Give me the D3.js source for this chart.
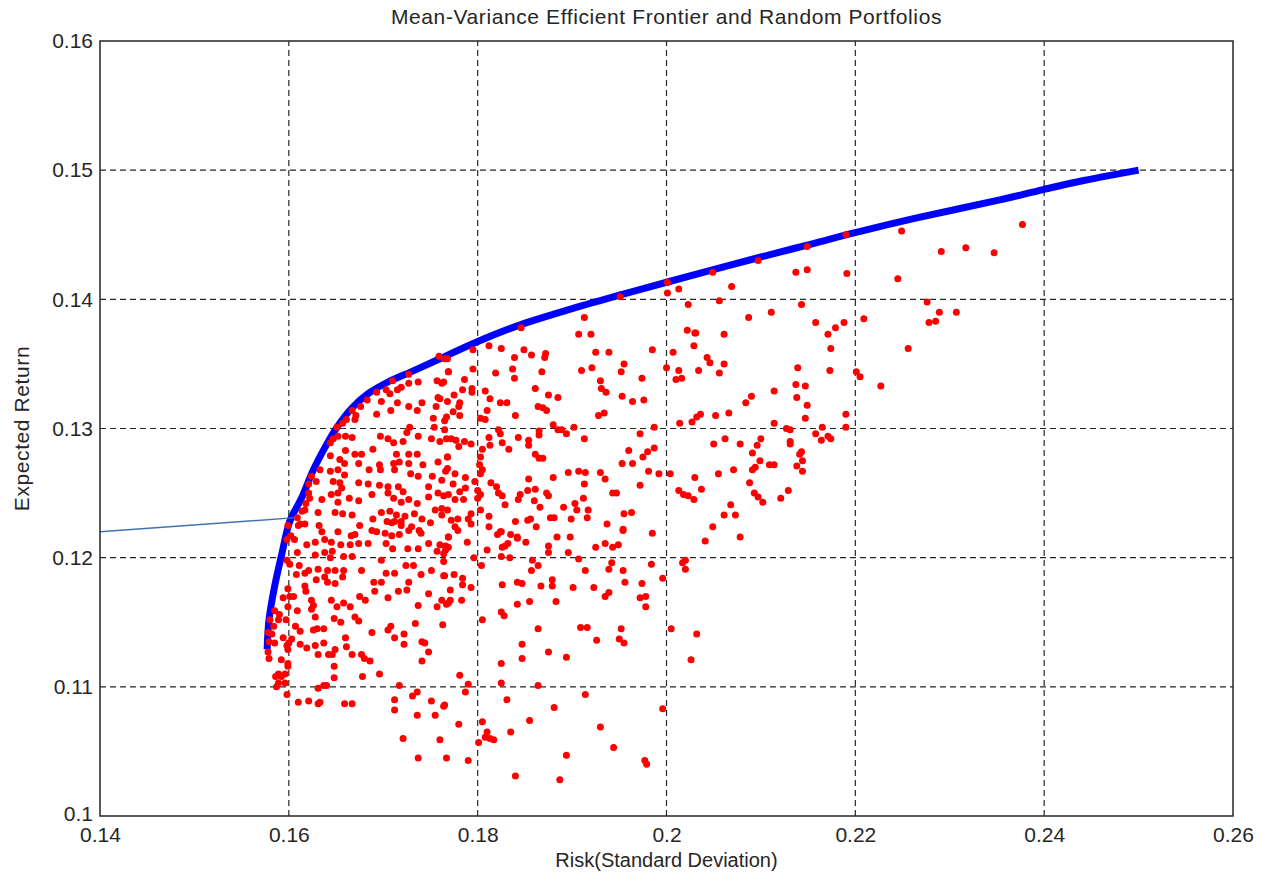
<!DOCTYPE html>
<html>
<head>
<meta charset="utf-8">
<script src="https://cdn.jsdelivr.net/npm/d3@7"></script>
<style>
  body { margin: 0; background: #fff; }
  text { font-family: "Liberation Sans", Arial, sans-serif; fill: #262626; }
</style>
</head>
<body>
<svg id="chart" width="1261" height="879"></svg>
<script>
// axis ticks
var xTicks = [0.14, 0.16, 0.18, 0.2, 0.22, 0.24, 0.26];
var yTicks = [0.1, 0.11, 0.12, 0.13, 0.14, 0.15, 0.16];

// efficient frontier (risk, return)
var frontierRisk = [0.1577, 0.1579, 0.1585, 0.1592, 0.1601, 0.1614, 0.1626, 0.1638, 0.1651, 0.1667,
	0.1684, 0.1705, 0.1730, 0.1760, 0.1799, 0.1848, 0.1901, 0.1954, 0.2004, 0.2096,
	0.2149, 0.2202, 0.2265, 0.2353, 0.2399, 0.2442, 0.2500];
var frontierReturn = [0.1129, 0.1152, 0.1178, 0.1201, 0.1228, 0.1247, 0.1268, 0.1285, 0.1301, 0.1316,
	0.1327, 0.1336, 0.1344, 0.1354, 0.1367, 0.1381, 0.1393, 0.1404, 0.1414, 0.1432,
	0.1442, 0.1452, 0.1463, 0.1477, 0.1485, 0.1492, 0.1500];

// pointer line
var pointerRisk = [0.14, 0.1607];
var pointerReturn = [0.1220, 0.1231];

// random portfolios [risk, return]
var portfolios = [
	[0.2377,0.1458],[0.2249,0.1453],[0.2291,0.1437],[0.2317,0.1440],[0.2347,0.1436],[0.2245,0.1416],[0.2190,0.1450],[0.2149,0.1441],
	[0.2097,0.1430],[0.2049,0.1421],[0.2137,0.1421],[0.2149,0.1423],[0.2191,0.1420],[0.2069,0.1410],[0.2056,0.1399],[0.2143,0.1396],
	[0.2111,0.1390],[0.2087,0.1386],[0.2276,0.1398],[0.2289,0.1390],[0.2307,0.1390],[0.2278,0.1382],[0.2285,0.1383],[0.2209,0.1385],
	[0.2188,0.1382],[0.2179,0.1378],[0.2158,0.1382],[0.2171,0.1373],[0.2174,0.1362],[0.2256,0.1362],[0.2030,0.1374],[0.2061,0.1373],
	[0.2029,0.1364],[0.2043,0.1355],[0.2046,0.1351],[0.2061,0.1350],[0.2034,0.1345],[0.2056,0.1343],[0.2139,0.1347],[0.2173,0.1345],
	[0.2201,0.1344],[0.2205,0.1340],[0.2227,0.1333],[0.2137,0.1334],[0.2147,0.1333],[0.2114,0.1329],[0.2090,0.1325],[0.2084,0.1320],
	[0.2138,0.1324],[0.2149,0.1318],[0.2036,0.1311],[0.2032,0.1309],[0.2027,0.1305],[0.2052,0.1310],[0.2066,0.1312],[0.2114,0.1304],
	[0.2147,0.1308],[0.2190,0.1311],[0.2190,0.1301],[0.2127,0.1300],[0.2131,0.1299],[0.2165,0.1301],[0.2158,0.1296],[0.2164,0.1291],
	[0.2171,0.1294],[0.2174,0.1292],[0.2050,0.1288],[0.2062,0.1292],[0.2078,0.1288],[0.2100,0.1292],[0.2096,0.1287],[0.2131,0.1290],
	[0.2131,0.1288],[0.2091,0.1281],[0.2099,0.1275],[0.2109,0.1272],[0.2114,0.1272],[0.2143,0.1282],[0.2141,0.1280],[0.2144,0.1275],
	[0.2138,0.1271],[0.2144,0.1267],[0.2094,0.1270],[0.2091,0.1268],[0.2071,0.1268],[0.2055,0.1265],[0.2030,0.1262],[0.2037,0.1253],
	[0.2029,0.1245],[0.2088,0.1258],[0.2093,0.1250],[0.2097,0.1247],[0.2102,0.1243],[0.2121,0.1246],[0.2129,0.1252],[0.2068,0.1241],
	[0.2061,0.1233],[0.2073,0.1233],[0.2049,0.1224],[0.2078,0.1216],[0.2041,0.1213],[0.2032,0.1141],[0.2026,0.1121],
	[0.1996,0.1083],[0.1977,0.1043],[0.1979,0.1040],[0.1944,0.1053],[0.1930,0.1069],[0.1914,0.1094],[0.1894,0.1047],[0.1887,0.1028],
	[0.1881,0.1084],[0.1864,0.1101],[0.1855,0.1074],[0.1840,0.1031],[0.1835,0.1065],[0.1831,0.1090],[0.1825,0.1103],[0.1805,0.1073],
	[0.1810,0.1065],[0.1813,0.1060],[0.1817,0.1059],[0.1808,0.1061],[0.1801,0.1057],[0.1790,0.1043],[0.1767,0.1045],[0.1780,0.1071],
	[0.1764,0.1085],[0.1760,0.1059],[0.1781,0.1109],[0.1790,0.1102],[0.1787,0.1096],[0.1825,0.1118],[0.1847,0.1122],[0.1847,0.1133],
	[0.1875,0.1127],[0.1894,0.1123],[0.1864,0.1145],[0.1909,0.1146],[0.1916,0.1146],[0.1926,0.1136],[0.1950,0.1137],[0.1955,0.1134],
	[0.1952,0.1145],[0.2005,0.1145],[0.1805,0.1152],[0.1825,0.1158],[0.1828,0.1155],[0.1842,0.1164],[0.1855,0.1166],[0.1883,0.1166],
	[0.1763,0.1148],[0.1978,0.1162],[0.1972,0.1169],[0.1978,0.1170],[0.1935,0.1170],[0.1939,0.1173],[0.1923,0.1177],[0.1901,0.1177],
	[0.1879,0.1183],[0.1879,0.1178],[0.1867,0.1178],[0.1842,0.1181],[0.1847,0.1180],[0.1826,0.1179],[0.1793,0.1177],[0.1771,0.1175],
	[0.1783,0.1167],[0.1771,0.1167],[0.1767,0.1164],[0.1784,0.1179],[0.1784,0.1184],[0.1775,0.1187],[0.1764,0.1186],[0.1804,0.1194],
	[0.1857,0.1190],[0.1864,0.1194],[0.1858,0.1198],[0.1914,0.1190],[0.1939,0.1191],[0.1942,0.1196],[0.1954,0.1190],[0.1956,0.1181],
	[0.1974,0.1180],[0.1984,0.1195],[0.1996,0.1184],[0.2017,0.1196],[0.2020,0.1198],[0.2020,0.1191],[0.1907,0.1199],[0.1896,0.1204],
	[0.1875,0.1204],[0.1875,0.1209],[0.1884,0.1216],[0.1898,0.1216],[0.1925,0.1208],[0.1935,0.1211],[0.1943,0.1208],[0.1949,0.1210],
	[0.1954,0.1221],[0.1985,0.1219],[0.1851,0.1212],[0.1842,0.1215],[0.1835,0.1218],[0.1832,0.1211],[0.1829,0.1209],[0.1826,0.1208],
	[0.1821,0.1218],[0.1825,0.1220],[0.1825,0.1201],[0.1834,0.1200],[0.1810,0.1206],[0.1789,0.1212],[0.1796,0.1200],[0.1779,0.1221],
	[0.1769,0.1216],[0.1769,0.1208],[0.1766,0.1206],[0.1764,0.1203],[0.1764,0.1197],[0.1760,0.1210],
	[0.2001,0.1413],[0.2001,0.1405],[0.2013,0.1408],[0.2023,0.1396],[0.1951,0.1402],[0.1913,0.1386],[0.1846,0.1378],[0.1907,0.1373],
	[0.1920,0.1373],[0.2022,0.1376],[0.2031,0.1374],[0.2007,0.1359],[0.1812,0.1364],[0.1825,0.1362],[0.1795,0.1361],[0.1849,0.1361],
	[0.1857,0.1357],[0.1872,0.1358],[0.1871,0.1355],[0.1839,0.1355],[0.1925,0.1359],[0.1939,0.1359],[0.1985,0.1361],[0.1955,0.1350],
	[0.1921,0.1347],[0.1910,0.1345],[0.1952,0.1344],[0.1974,0.1339],[0.2000,0.1347],[0.2013,0.1345],[0.2010,0.1338],[0.2016,0.1339],
	[0.1837,0.1346],[0.1839,0.1339],[0.1868,0.1344],[0.1819,0.1343],[0.1795,0.1346],[0.1769,0.1344],[0.1930,0.1337],[0.1931,0.1331],
	[0.1936,0.1328],[0.1953,0.1325],[0.1964,0.1321],[0.1976,0.1322],[0.1861,0.1331],[0.1875,0.1326],[0.1885,0.1324],[0.1864,0.1317],
	[0.1869,0.1316],[0.1873,0.1314],[0.1824,0.1320],[0.1831,0.1320],[0.1813,0.1323],[0.1808,0.1329],[0.1810,0.1314],[0.1840,0.1310],
	[0.1803,0.1308],[0.1808,0.1307],[0.1928,0.1310],[0.1934,0.1312],[0.2014,0.1304],[0.1880,0.1303],[0.1885,0.1299],[0.1889,0.1299],
	[0.1894,0.1296],[0.1902,0.1301],[0.1913,0.1292],[0.1972,0.1296],[0.1987,0.1301],[0.1865,0.1298],[0.1865,0.1295],[0.1854,0.1291],
	[0.1854,0.1287],[0.1843,0.1293],[0.1822,0.1299],[0.1824,0.1296],[0.1826,0.1289],[0.1833,0.1284],[0.1812,0.1293],[0.1813,0.1287],
	[0.1805,0.1284],[0.1793,0.1288],[0.1786,0.1290],[0.1777,0.1291],[0.1767,0.1292],[0.1765,0.1299],[0.1780,0.1286],[0.1960,0.1283],
	[0.1980,0.1282],[0.1975,0.1278],[0.1987,0.1285],[0.1953,0.1273],[0.1964,0.1273],[0.1861,0.1280],[0.1865,0.1277],[0.1869,0.1277],
	[0.1803,0.1278],[0.1802,0.1272],[0.1805,0.1268],[0.1803,0.1265],[0.1768,0.1278],[0.1768,0.1269],[0.1776,0.1265],[0.1787,0.1262],
	[0.1797,0.1259],[0.1762,0.1260],[0.1896,0.1266],[0.1907,0.1267],[0.1914,0.1266],[0.1930,0.1266],[0.1935,0.1261],[0.1981,0.1267],
	[0.1992,0.1265],[0.2004,0.1265],[0.1880,0.1262],[0.1854,0.1261],[0.1814,0.1258],[0.1913,0.1257],[0.1972,0.1256],[0.1947,0.1250],
	[0.1943,0.1250],[0.1861,0.1253],[0.1853,0.1252],[0.1845,0.1249],[0.1820,0.1255],[0.1826,0.1248],[0.1829,0.1241],[0.1843,0.1245],
	[0.1860,0.1244],[0.1866,0.1239],[0.1873,0.1250],[0.1875,0.1248],[0.1903,0.1242],[0.1912,0.1246],[0.1905,0.1237],[0.1917,0.1237],
	[0.1891,0.1239],[0.1877,0.1231],[0.1881,0.1231],[0.1899,0.1230],[0.1916,0.1231],[0.1937,0.1226],[0.1955,0.1234],[0.1963,0.1235],
	[0.1954,0.1222],[0.2013,0.1252],[0.2018,0.1249],[0.2023,0.1248],[0.1856,0.1230],[0.1853,0.1229],[0.1840,0.1228],[0.1824,0.1220],
	[0.1812,0.1224],[0.1812,0.1232],[0.1803,0.1237],[0.1793,0.1234],[0.1790,0.1230],[0.1793,0.1226],[0.1779,0.1230],[0.1776,0.1224],
	[0.1768,0.1237],[0.1762,0.1238],[0.1862,0.1224],[0.1842,0.1216],[0.1785,0.1245],[0.1776,0.1245],[0.1764,0.1248],[0.1781,0.1251],
	[0.1800,0.1252],[0.1787,0.1254],[0.1774,0.1257],[0.1800,0.1246],[0.1803,0.1249],[0.1822,0.1250],[0.1765,0.1306],[0.1760,0.1323],
	[0.1784,0.1330],[0.1775,0.1326],[0.1786,0.1338],[0.1794,0.1331],[0.1794,0.1328],[0.1781,0.1320],[0.1780,0.1317],[0.1774,0.1313],
	[0.1781,0.1310],[0.1767,0.1309],[0.1764,0.1336],[0.1768,0.1354],
	[0.1759,0.1356],[0.1765,0.1354],[0.1769,0.1344],[0.1757,0.1337],[0.1762,0.1335],[0.1727,0.1342],[0.1710,0.1337],[0.1737,0.1336],
	[0.1727,0.1335],[0.1719,0.1332],[0.1715,0.1330],[0.1703,0.1330],[0.1707,0.1327],[0.1693,0.1328],[0.1683,0.1322],[0.1758,0.1324],
	[0.1768,0.1321],[0.1698,0.1321],[0.1715,0.1320],[0.1727,0.1317],[0.1741,0.1320],[0.1756,0.1317],[0.1736,0.1314],[0.1708,0.1314],
	[0.1693,0.1311],[0.1676,0.1317],[0.1667,0.1314],[0.1671,0.1310],[0.1661,0.1307],[0.1657,0.1304],[0.1651,0.1301],[0.1670,0.1307],
	[0.1753,0.1308],[0.1754,0.1301],[0.1728,0.1301],[0.1725,0.1297],[0.1737,0.1294],[0.1705,0.1292],[0.1697,0.1294],[0.1667,0.1293],
	[0.1660,0.1294],[0.1652,0.1294],[0.1647,0.1292],[0.1644,0.1289],[0.1711,0.1289],[0.1721,0.1290],[0.1751,0.1292],[0.1760,0.1290],
	[0.1772,0.1292],[0.1689,0.1284],[0.1660,0.1283],[0.1670,0.1280],[0.1677,0.1280],[0.1644,0.1279],[0.1714,0.1280],[0.1727,0.1280],
	[0.1736,0.1280],[0.1768,0.1278],[0.1654,0.1276],[0.1659,0.1273],[0.1674,0.1273],[0.1696,0.1272],[0.1711,0.1273],[0.1717,0.1274],
	[0.1727,0.1273],[0.1742,0.1272],[0.1758,0.1274],[0.1633,0.1268],[0.1644,0.1267],[0.1652,0.1268],[0.1659,0.1264],[0.1685,0.1268],
	[0.1697,0.1268],[0.1712,0.1268],[0.1729,0.1265],[0.1737,0.1263],[0.1752,0.1263],[0.1766,0.1267],[0.1624,0.1263],[0.1629,0.1259],
	[0.1621,0.1257],[0.1647,0.1259],[0.1654,0.1258],[0.1656,0.1254],[0.1652,0.1250],[0.1674,0.1258],[0.1684,0.1257],[0.1696,0.1256],
	[0.1705,0.1255],[0.1716,0.1255],[0.1721,0.1251],[0.1705,0.1250],[0.1688,0.1249],[0.1748,0.1255],[0.1758,0.1250],[0.1748,0.1247],
	[0.1769,0.1249],[0.1621,0.1250],[0.1622,0.1246],[0.1635,0.1245],[0.1645,0.1249],[0.1652,0.1243],[0.1664,0.1246],[0.1674,0.1244],
	[0.1711,0.1246],[0.1727,0.1245],[0.1736,0.1242],[0.1719,0.1243],[0.1618,0.1242],[0.1614,0.1236],[0.1617,0.1237],[0.1631,0.1235],
	[0.1649,0.1235],[0.1657,0.1234],[0.1667,0.1233],[0.1689,0.1230],[0.1698,0.1235],[0.1707,0.1236],[0.1714,0.1233],[0.1723,0.1232],
	[0.1733,0.1234],[0.1741,0.1230],[0.1755,0.1237],[0.1762,0.1233],[0.1772,0.1229],[0.1609,0.1231],[0.1612,0.1226],[0.1709,0.1227],
	[0.1719,0.1225],[0.1730,0.1224],
	[0.1599,0.1225],[0.1610,0.1225],[0.1617,0.1226],[0.1632,0.1225],[0.1635,0.1220],[0.1652,0.1220],[0.1675,0.1225],[0.1688,0.1221],
	[0.1693,0.1220],[0.1704,0.1228],[0.1712,0.1228],[0.1719,0.1228],[0.1702,0.1219],[0.1709,0.1217],[0.1717,0.1218],[0.1727,0.1221],
	[0.1738,0.1221],[0.1750,0.1227],[0.1740,0.1219],[0.1769,0.1216],[0.1666,0.1217],[0.1670,0.1218],[0.1602,0.1217],[0.1606,0.1214],
	[0.1598,0.1214],[0.1619,0.1210],[0.1628,0.1212],[0.1638,0.1214],[0.1645,0.1212],[0.1655,0.1210],[0.1665,0.1210],[0.1674,0.1211],
	[0.1684,0.1211],[0.1703,0.1211],[0.1710,0.1207],[0.1726,0.1207],[0.1737,0.1207],[0.1748,0.1211],[0.1757,0.1205],[0.1766,0.1209],
	[0.1609,0.1204],[0.1628,0.1202],[0.1638,0.1204],[0.1646,0.1205],[0.1644,0.1200],[0.1658,0.1201],[0.1667,0.1201],[0.1598,0.1198],
	[0.1601,0.1195],[0.1611,0.1194],[0.1621,0.1190],[0.1608,0.1187],[0.1617,0.1188],[0.1631,0.1191],[0.1638,0.1185],[0.1641,0.1190],
	[0.1649,0.1190],[0.1658,0.1190],[0.1657,0.1185],[0.1677,0.1190],[0.1698,0.1198],[0.1703,0.1188],[0.1712,0.1188],[0.1724,0.1194],
	[0.1732,0.1194],[0.1740,0.1187],[0.1751,0.1190],[0.1765,0.1186],[0.1629,0.1183],[0.1641,0.1181],[0.1649,0.1180],[0.1690,0.1181],
	[0.1698,0.1181],[0.1727,0.1181],[0.1716,0.1174],[0.1691,0.1174],[0.1725,0.1175],[0.1748,0.1172],[0.1617,0.1178],[0.1618,0.1174],
	[0.1599,0.1176],[0.1594,0.1169],[0.1601,0.1170],[0.1605,0.1170],[0.1624,0.1167],[0.1626,0.1163],[0.1645,0.1167],[0.1651,0.1162],
	[0.1658,0.1165],[0.1665,0.1162],[0.1675,0.1170],[0.1681,0.1167],[0.1705,0.1169],[0.1737,0.1163],[0.1757,0.1162],[0.1762,0.1167],
	[0.1769,0.1165],[0.1585,0.1159],[0.1590,0.1156],[0.1599,0.1162],[0.1609,0.1159],[0.1624,0.1160],[0.1628,0.1154],[0.1648,0.1153],
	[0.1655,0.1150],[0.1670,0.1154],[0.1674,0.1151],[0.1580,0.1152],[0.1584,0.1147],[0.1589,0.1152],[0.1597,0.1152],[0.1607,0.1147],
	[0.1612,0.1143],[0.1626,0.1144],[0.1630,0.1145],[0.1637,0.1145],[0.1660,0.1138],[0.1688,0.1142],[0.1708,0.1147],[0.1705,0.1144],
	[0.1712,0.1138],[0.1722,0.1141],[0.1578,0.1142],[0.1582,0.1141],[0.1579,0.1135],[0.1585,0.1134],[0.1594,0.1138],[0.1598,0.1132],
	[0.1600,0.1134],[0.1603,0.1137],[0.1612,0.1133],[0.1619,0.1130],[0.1628,0.1132],[0.1637,0.1134],[0.1661,0.1131],[0.1667,0.1125],
	[0.1677,0.1125],[0.1680,0.1122],[0.1686,0.1120],[0.1642,0.1125],[0.1646,0.1125],[0.1648,0.1116],[0.1631,0.1125],[0.1599,0.1129],
	[0.1579,0.1122],[0.1578,0.1127],[0.1592,0.1121],[0.1599,0.1118],[0.1599,0.1116],[0.1589,0.1110],[0.1596,0.1110],[0.1586,0.1108],
	[0.1592,0.1108],[0.1589,0.1103],[0.1596,0.1103],[0.1587,0.1100],[0.1598,0.1094],[0.1610,0.1088],[0.1621,0.1089],[0.1631,0.1087],
	[0.1633,0.1088],[0.1631,0.1099],[0.1637,0.1101],[0.1640,0.1101],[0.1648,0.1107],[0.1659,0.1087],[0.1667,0.1087],[0.1678,0.1108],
	[0.1696,0.1110],[0.1717,0.1101],[0.1712,0.1090],[0.1712,0.1082],[0.1731,0.1093],[0.1736,0.1096],[0.1751,0.1089],[0.1765,0.1086],
	[0.1755,0.1078],[0.1736,0.1078],[0.1722,0.1133],[0.1741,0.1135],[0.1744,0.1134],[0.1748,0.1127],[0.1741,0.1120],[0.1734,0.1149],
	[0.1649,0.1129],[0.1721,0.1060],[0.1737,0.1045]
];

var svg = d3.select('#chart');
var margin = { left: 100, top: 41, right: 28, bottom: 63 };
var W = 1261, H = 879;

var x = d3.scaleLinear().domain([0.14, 0.26]).range([margin.left, W - margin.right]);
var y = d3.scaleLinear().domain([0.1, 0.16]).range([H - margin.bottom, margin.top]);

var fmt = function(d){ return String(+d.toFixed(2)); };

// grid
var grid = svg.append('g').attr('class', 'grid');
grid.selectAll('line.gx').data(xTicks.slice(1, -1)).enter().append('line')
	.attr('x1', function(d){ return x(d); }).attr('x2', function(d){ return x(d); })
	.attr('y1', y(0.1)).attr('y2', y(0.16))
	.attr('stroke', '#262626').attr('stroke-width', 1.2).attr('stroke-dasharray', '6,4');
grid.selectAll('line.gy').data(yTicks.slice(1, -1)).enter().append('line')
	.attr('y1', function(d){ return y(d); }).attr('y2', function(d){ return y(d); })
	.attr('x1', x(0.14)).attr('x2', x(0.26))
	.attr('stroke', '#262626').attr('stroke-width', 1.2).attr('stroke-dasharray', '6,4');

// frontier
var line = d3.line()
	.x(function(d){ return x(frontierRisk[d]); })
	.y(function(d){ return y(frontierReturn[d]); })
	.curve(d3.curveCatmullRom.alpha(0.5));
svg.append('path')
	.datum(d3.range(frontierRisk.length))
	.attr('d', line)
	.attr('fill', 'none')
	.attr('stroke', '#0000ff')
	.attr('stroke-width', 7);

// portfolios
svg.append('g').selectAll('circle').data(portfolios).enter().append('circle')
	.attr('cx', function(d){ return x(d[0]); })
	.attr('cy', function(d){ return y(d[1]); })
	.attr('r', 3.5)
	.attr('fill', '#ff0000');

// pointer line
svg.append('line')
	.attr('x1', x(pointerRisk[0])).attr('y1', y(pointerReturn[0]))
	.attr('x2', x(pointerRisk[1])).attr('y2', y(pointerReturn[1]))
	.attr('stroke', '#3f73b0').attr('stroke-width', 1.5);

// axes box
svg.append('rect')
	.attr('x', x(0.14)).attr('y', y(0.16))
	.attr('width', x(0.26) - x(0.14)).attr('height', y(0.1) - y(0.16))
	.attr('fill', 'none').attr('stroke', '#262626').attr('stroke-width', 1.5);

var xAxis = svg.append('g')
	.attr('transform', 'translate(0,' + y(0.1) + ')')
	.call(d3.axisBottom(x).tickValues(xTicks).tickFormat(fmt).tickSize(0).tickPadding(11));
var yAxis = svg.append('g')
	.attr('transform', 'translate(' + x(0.14) + ',0)')
	.call(d3.axisLeft(y).tickValues(yTicks).tickFormat(fmt).tickSize(0).tickPadding(7));
[xAxis, yAxis].forEach(function(a){
	a.select('.domain').remove();
	a.selectAll('text').style('font-size', '21px').attr('fill', '#262626')
		.style('font-family', '"Liberation Sans", Arial, sans-serif');
});
// lift the lowest y label a touch so it clears the 0.14 label below it
yAxis.selectAll('.tick text').filter(function(d){ return d === 0.1; }).attr('dy', '0.2em');

svg.append('text')
	.attr('x', (x(0.14) + x(0.26)) / 2).attr('y', 24)
	.attr('text-anchor', 'middle').style('font-size', '21px').style('letter-spacing', '0.6px')
	.text('Mean-Variance Efficient Frontier and Random Portfolios');
svg.append('text')
	.attr('x', (x(0.14) + x(0.26)) / 2).attr('y', 867)
	.attr('text-anchor', 'middle').style('font-size', '20px')
	.text('Risk(Standard Deviation)');
svg.append('text')
	.attr('transform', 'translate(29,' + ((y(0.1) + y(0.16)) / 2) + ') rotate(-90)')
	.attr('text-anchor', 'middle').style('font-size', '21px').style('letter-spacing', '0.6px')
	.text('Expected Return');
</script>
</body>
</html>
